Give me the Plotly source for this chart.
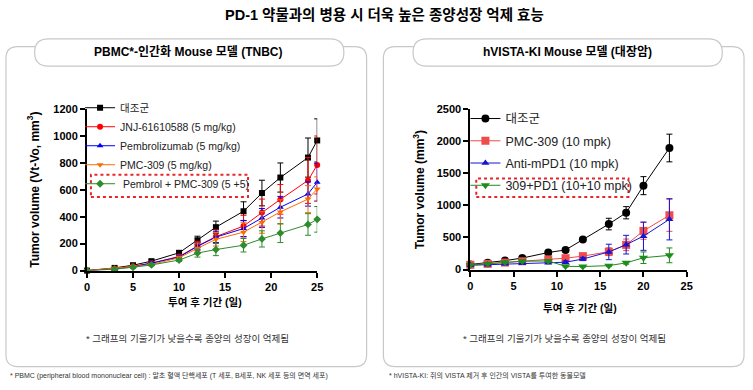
import plotly.graph_objects as go

W, H = 753, 390
FONT = "Liberation Sans, Arial, Noto Sans CJK KR"
KFONT = "Liberation Sans, Noto Sans CJK KR"

# ---------------- Left chart data (PBMC humanized, TNBC) ----------------
days_left = [0, 3, 5, 7, 10, 12, 14, 17, 19, 21, 24, 25]
left_names = ["대조군", "JNJ-61610588 (5 mg/kg)", "Pembrolizumab (5 mg/kg)",
              "PMC-309 (5 mg/kg)", " Pembrol + PMC-309 (5 +5)"]
left_control = [0, 20, 40, 70, 132, 225, 322, 440, 575, 690, 838, 965]
left_control_err = [3, 5, 8, 10, 15, 30, 45, 70, 95, 108, 145, 160]
left_jnj = [0, 15, 32, 55, 105, 182, 252, 330, 430, 528, 668, 783]
left_jnj_err = [2, 4, 6, 8, 12, 35, 50, 80, 100, 110, 170, 215]
left_pembro = [0, 12, 30, 55, 100, 180, 248, 312, 390, 470, 568, 655]
left_pembro_err = [2, 4, 6, 8, 12, 25, 40, 60, 70, 80, 90, 140]
left_pmc = [0, 15, 30, 45, 95, 165, 232, 285, 357, 435, 530, 605]
left_pmc_err = [2, 4, 6, 8, 12, 40, 50, 70, 80, 90, 100, 90]
left_combo = [0, 10, 25, 42, 78, 130, 156, 188, 235, 278, 342, 380]
left_combo_err = [2, 3, 5, 6, 10, 30, 45, 50, 60, 70, 80, 95]

# ---------------- Right chart data (hVISTA-KI, colorectal) ----------------
days_right = [0, 2, 4, 6, 9, 11, 13, 16, 18, 20, 23]
right_names = ["대조군", "PMC-309 (10 mpk)", "Anti-mPD1 (10 mpk)", "309+PD1 (10+10 mpk)"]
right_control = [80, 105, 140, 180, 266, 306, 467, 708, 884, 1305, 1890]
right_control_err = [10, 15, 20, 20, 25, 25, 30, 90, 95, 140, 215]
right_pmc = [75, 90, 110, 130, 160, 178, 210, 278, 385, 602, 845]
right_pmc_err = [10, 10, 15, 15, 20, 20, 25, 60, 90, 130, 250]
right_pd1 = [68, 75, 90, 100, 108, 115, 165, 275, 388, 520, 782]
right_pd1_err = [10, 10, 12, 12, 15, 20, 25, 120, 145, 220, 320]
right_combo = [72, 92, 115, 130, 135, 52, 48, 62, 105, 185, 222]
right_combo_err = [10, 10, 12, 12, 15, 10, 10, 15, 20, 90, 115]

left_x_ticks = [0, 5, 10, 15, 20, 25]
left_y_ticks = [0, 200, 400, 600, 800, 1000, 1200]
right_x_ticks = [0, 5, 10, 15, 20, 25]
right_y_ticks = [0, 500, 1000, 1500, 2000, 2500]

fig = go.Figure()

def add(x, y, err, name, color, symbol, size, xa, ya, legend, group):
    fig.add_trace(go.Scatter(
        x=x, y=y, name=name, mode="lines+markers",
        line=dict(color=color, width=1),
        marker=dict(color=color, symbol=symbol, size=size),
        error_y=dict(type="data", array=err, visible=True, color=color,
                     thickness=1, width=3),
        xaxis=xa, yaxis=ya, legend=legend, legendgroup=group,
        cliponaxis=False))

left_styles = [("#000000", "square", 6), ("#ff0000", "circle", 6),
               ("#0000ff", "triangle-up", 6), ("#ff6a00", "triangle-down", 6),
               ("#2e8b2e", "diamond", 6)]
left_series = [(left_control, left_control_err), (left_jnj, left_jnj_err),
               (left_pembro, left_pembro_err), (left_pmc, left_pmc_err),
               (left_combo, left_combo_err)]
for (y, e), (c, s, sz), n in zip(left_series, left_styles, left_names):
    add(days_left, y, e, n, c, s, sz, "x", "y", "legend", None)

right_styles = [("#000000", "circle", 8), ("#f24b4b", "square", 8),
                ("#1515d0", "triangle-up", 7), ("#1e8c1e", "triangle-down", 8)]
right_series = [(right_control, right_control_err), (right_pmc, right_pmc_err),
                (right_pd1, right_pd1_err), (right_combo, right_combo_err)]
for i, ((y, e), (c, s, sz), n) in enumerate(zip(right_series, right_styles, right_names)):
    add(days_right, y, e, n, c, s, sz, "x2", "y2", "legend2", "R%d" % i)

def px(x):
    return x / W

def py(y):
    return 1 - y / H

axis_common = dict(showgrid=False, zeroline=False, showline=True, linecolor="black",
                   linewidth=2, ticks="outside", ticklen=5, tickwidth=2, tickcolor="black",
                   tickfont=dict(family=FONT, size=11, color="black", weight="bold"))

fig.update_layout(
    width=W, height=H, margin=dict(l=0, r=0, t=0, b=0),
    paper_bgcolor="white", plot_bgcolor="white",
    font=dict(family=KFONT, color="black"),
    xaxis=dict(domain=[px(85), px(318)], range=[0, 25], tickvals=left_x_ticks,
               anchor="y", **axis_common),
    yaxis=dict(domain=[py(273), py(106)], range=[0, 1200], tickvals=left_y_ticks,
               anchor="x", **axis_common),
    xaxis2=dict(domain=[px(473), px(692)], range=[0, 25], tickvals=right_x_ticks,
                anchor="y2", **axis_common),
    yaxis2=dict(domain=[py(272), py(106)], range=[0, 2500], tickvals=right_y_ticks,
                anchor="x2", **axis_common),
    legend=dict(x=px(78), y=py(90), xanchor="left", yanchor="top",
                bgcolor="rgba(0,0,0,0)", font=dict(family=KFONT, size=10.5, color="#222"),
                tracegroupgap=0, itemwidth=30),
    legend2=dict(x=px(468), y=py(101), xanchor="left", yanchor="top",
                 bgcolor="rgba(0,0,0,0)", font=dict(family=KFONT, size=12.5, color="#222"),
                 tracegroupgap=3, traceorder="grouped", itemwidth=30),
    showlegend=True,
)

def rrect(x0, y0, x1, y1, r):
    X = lambda v: "%.5f" % px(v)
    Y = lambda v: "%.5f" % py(v)
    return ("M %s,%s L %s,%s Q %s,%s %s,%s L %s,%s Q %s,%s %s,%s L %s,%s Q %s,%s %s,%s "
            "L %s,%s Q %s,%s %s,%s Z") % (
        X(x0 + r), Y(y0), X(x1 - r), Y(y0), X(x1), Y(y0), X(x1), Y(y0 + r),
        X(x1), Y(y1 - r), X(x1), Y(y1), X(x1 - r), Y(y1),
        X(x0 + r), Y(y1), X(x0), Y(y1), X(x0), Y(y1 - r),
        X(x0), Y(y0 + r), X(x0), Y(y0), X(x0 + r), Y(y0))

shapes = []
for (bx0, bx1, tx0, tx1) in [(3, 368, 32, 345), (385, 750, 415, 728)]:
    shapes.append(dict(type="path", xref="paper", yref="paper", path=rrect(bx0, 42, bx1, 372, 12),
                       line=dict(color="#c8c8c8", width=1.2), fillcolor="white", layer="below"))
    shapes.append(dict(type="path", xref="paper", yref="paper", path=rrect(tx0, 34, tx1, 62, 14),
                       line=dict(color="#c8c8c8", width=1.2), fillcolor="white", layer="below"))
shapes.append(dict(type="rect", xref="paper", yref="paper", x0=px(89), x1=px(248),
                   y0=py(197), y1=py(174), line=dict(color="#e8262a", width=2, dash="dot")))
shapes.append(dict(type="rect", xref="paper", yref="paper", x0=px(479), x1=px(633),
                   y0=py(197), y1=py(178), line=dict(color="#e8262a", width=2, dash="dot")))
fig.update_layout(shapes=shapes)

ann = []
def text(x, y, s, size, bold=False, color="black", angle=0, xanchor="center"):
    ann.append(dict(x=px(x), y=py(y), xref="paper", yref="paper", text=s, showarrow=False,
                    xanchor=xanchor, yanchor="middle", textangle=angle,
                    font=dict(family=KFONT, size=size, color=color,
                              weight="bold" if bold else "normal")))

text(386, 9, "PD-1 약물과의 병용 시 더욱 높은 종양성장 억제 효능", 14.5, bold=True)
text(188, 47, "PBMC*-인간화 Mouse 모델 (TNBC)", 12, bold=True)
text(571, 47, "hVISTA-KI Mouse 모델 (대장암)", 12, bold=True)
text(31, 190, "Tumor volume (Vt-Vo, mm<sup>3</sup>)", 12, bold=True, angle=-90)
text(421, 189, "Tumor volume (mm<sup>3</sup>)", 12, bold=True, angle=-90)
text(204, 305, "투여 후 기간 (일)", 10.5, bold=True)
text(584, 312, "투여 후 기간 (일)", 10.5, bold=True)
text(187, 343, "* 그래프의 기울기가 낮을수록 종양의 성장이 억제됨", 9.5, color="#333")
text(568, 343, "* 그래프의 기울기가 낮을수록 종양의 성장이 억제됨", 9.5, color="#333")
text(5, 381, "* PBMC (peripheral blood mononuclear cell) : 말초 혈액 단핵세포 (T 세포, B세포, NK 세포 등의 면역 세포)",
     7, color="#333", xanchor="left")
text(389, 381, "* hVISTA-KI: 쥐의 VISTA 제거 후 인간의 VISTA를 투여한 동물모델", 7, color="#333", xanchor="left")
fig.update_layout(annotations=ann)

fig.write_html("out.html", config={"displayModeBar": False},
               post_script="document.body.style.margin='0';document.body.style.padding='0';")
